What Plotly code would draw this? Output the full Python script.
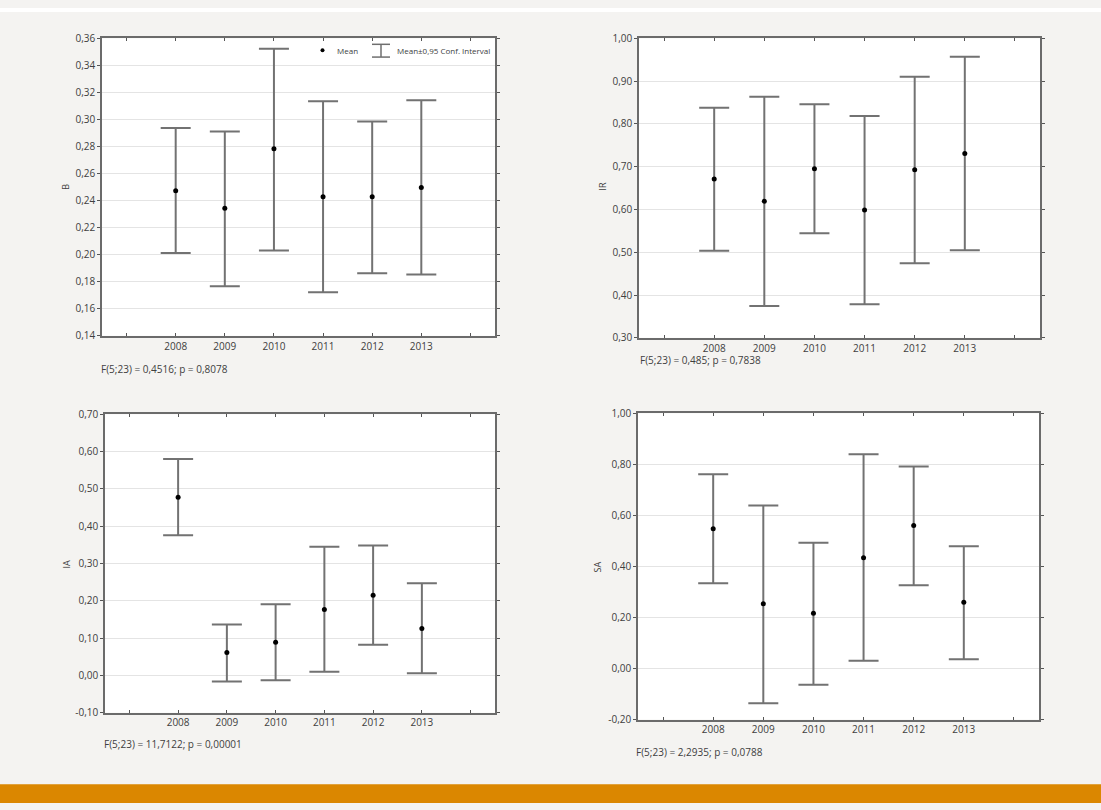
import plotly.graph_objects as go

years = ["2008", "2009", "2010", "2011", "2012", "2013"]

# B
b_mean = [0.2474, 0.2343, 0.2784, 0.2428, 0.2428, 0.2498]
b_low = [0.2012, 0.1767, 0.2031, 0.1723, 0.1862, 0.1854]
b_high = [0.2937, 0.2912, 0.3523, 0.3135, 0.2985, 0.3142]
# IR
ir_mean = [0.6715, 0.6195, 0.6953, 0.5988, 0.6930, 0.7312]
ir_low = [0.5038, 0.3744, 0.5444, 0.3783, 0.4740, 0.5046]
ir_high = [0.8377, 0.8637, 0.8461, 0.8185, 0.9104, 0.9571]
# IA
ia_mean = [0.4776, 0.0613, 0.0890, 0.1769, 0.2147, 0.1259]
ia_low = [0.3756, -0.0161, -0.0130, 0.0099, 0.0819, 0.0055]
ia_high = [0.5804, 0.1365, 0.1910, 0.3448, 0.3484, 0.2473]
# SA
sa_mean = [0.5480, 0.2535, 0.2164, 0.4340, 0.5608, 0.2600]
sa_low = [0.3342, -0.1357, -0.0640, 0.0307, 0.3265, 0.0359]
sa_high = [0.7618, 0.6390, 0.4930, 0.8400, 0.7913, 0.4789]

b_ticks = [0.14, 0.16, 0.18, 0.20, 0.22, 0.24, 0.26, 0.28, 0.30, 0.32, 0.34, 0.36]
ir_ticks = [0.30, 0.40, 0.50, 0.60, 0.70, 0.80, 0.90, 1.00]
ia_ticks = [-0.10, 0.00, 0.10, 0.20, 0.30, 0.40, 0.50, 0.60, 0.70]
sa_ticks = [-0.20, 0.00, 0.20, 0.40, 0.60, 0.80, 1.00]

stats = ["F(5;23) = 0,4516; p = 0,8078", "F(5;23) = 0,485; p = 0,7838",
         "F(5;23) = 11,7122; p = 0,00001", "F(5;23) = 2,2935; p = 0,0788"]
names = ["B", "IR", "IA", "SA"]

W, H = 1101, 810
FONT = "Open Sans"
TXT = "#404040"

def px(x):
    return x / W

def py(y):
    return 1 - y / H

panels = [
    dict(mean=b_mean, low=b_low, high=b_high, ticks=b_ticks, box=(102, 495, 31, 334),
         stat=(99, 368), title=(66, 182)),
    dict(mean=ir_mean, low=ir_low, high=ir_high, ticks=ir_ticks, box=(639, 1040, 31, 336),
         stat=(638, 359), title=(603, 182)),
    dict(mean=ia_mean, low=ia_low, high=ia_high, ticks=ia_ticks, box=(105, 495, 414, 718),
         stat=(102, 750), title=(66, 567)),
    dict(mean=sa_mean, low=sa_low, high=sa_high, ticks=sa_ticks, box=(638, 1039, 413, 725),
         stat=(634, 758), title=(597, 570)),
]

fig = go.Figure()
annotations = []
shapes = []
xpos = list(range(1, len(years) + 1))
tickvals_x = list(range(0, len(years) + 2))
ticktext_x = [""] + years + [""]

for i, p in enumerate(panels):
    n = "" if i == 0 else str(i + 1)
    up = [h - m for h, m in zip(p["high"], p["mean"])]
    dn = [m - l for m, l in zip(p["mean"], p["low"])]
    fig.add_trace(go.Scatter(
        x=xpos, y=p["mean"], mode="markers",
        marker=dict(color="black", size=5),
        error_y=dict(type="data", symmetric=False, array=up, arrayminus=dn,
                     color="#727272", thickness=2, width=15),
        xaxis="x" + n, yaxis="y" + n, showlegend=False, hoverinfo="skip"))
    x0, x1, y0, y1 = p["box"]
    fig.update_layout(**{
        "xaxis" + n: dict(domain=[px(x0), px(x1)], range=[-0.5, len(years) + 1.5],
                          anchor="y" + n, tickvals=tickvals_x, ticktext=ticktext_x,
                          ticks="inside", ticklen=3, tickcolor="#555", showgrid=False,
                          showline=True, linecolor="#6b6b6b", linewidth=1.5, mirror="ticks",
                          zeroline=False, tickfont=dict(family=FONT, size=10, color=TXT)),
        "yaxis" + n: dict(domain=[py(y1), py(y0)], range=[p["ticks"][0], p["ticks"][-1]],
                          anchor="x" + n, tickvals=p["ticks"],
                          ticktext=[f"{t:.2f}".replace(".", ",") for t in p["ticks"]],
                          ticks="outside", ticklen=3, tickcolor="#555",
                          showgrid=True, gridcolor="#e4e4e4", gridwidth=1,
                          showline=True, linecolor="#6b6b6b", linewidth=1.5, mirror="ticks",
                          zeroline=False, tickfont=dict(family=FONT, size=10, color=TXT)),
    })
    annotations.append(dict(x=px(p["stat"][0]), y=py(p["stat"][1]), xref="paper", yref="paper",
                            text=stats[i], showarrow=False, xanchor="left", yanchor="middle",
                            font=dict(family=FONT, size=10, color=TXT)))
    annotations.append(dict(x=px(p["title"][0]), y=py(p["title"][1]), xref="paper", yref="paper",
                            text=names[i], showarrow=False, textangle=-90,
                            xanchor="center", yanchor="middle",
                            font=dict(family=FONT, size=9, color=TXT)))

# legend (top-left panel)
shapes.append(dict(type="circle", xref="paper", yref="paper",
                   x0=px(320.5), x1=px(324.5), y0=py(45), y1=py(41),
                   fillcolor="black", line=dict(width=0)))
annotations.append(dict(x=px(335), y=py(43), xref="paper", yref="paper", text="Mean",
                        showarrow=False, xanchor="left", yanchor="middle",
                        font=dict(family=FONT, size=8, color=TXT)))
for (a, b, c, d) in [(372, 390, 37, 37), (372, 390, 50, 50), (381, 381, 37, 50)]:
    shapes.append(dict(type="line", xref="paper", yref="paper",
                       x0=px(a), x1=px(b), y0=py(c), y1=py(d),
                       line=dict(color="#6f6f6f", width=1.5)))
annotations.append(dict(x=px(395), y=py(43), xref="paper", yref="paper",
                        text="Mean±0,95 Conf. Interval",
                        showarrow=False, xanchor="left", yanchor="middle",
                        font=dict(family=FONT, size=8, color=TXT)))

# top white strip and orange footer bar
shapes.append(dict(type="rect", xref="paper", yref="paper", x0=0, x1=1, y0=py(4), y1=1,
                   fillcolor="white", line=dict(width=0), layer="below"))
shapes.append(dict(type="rect", xref="paper", yref="paper", x0=0, x1=1, y0=0, y1=py(791),
                   fillcolor="#db8700", line=dict(width=0), layer="below"))

fig.update_layout(width=W, height=H, margin=dict(l=0, r=0, t=0, b=0),
                  paper_bgcolor="#f4f3f1", plot_bgcolor="white",
                  annotations=annotations, shapes=shapes, showlegend=False)

fig.write_html("out.html", config={"displayModeBar": False},
               post_script="document.body.style.margin='0';document.body.style.overflow='hidden';")
